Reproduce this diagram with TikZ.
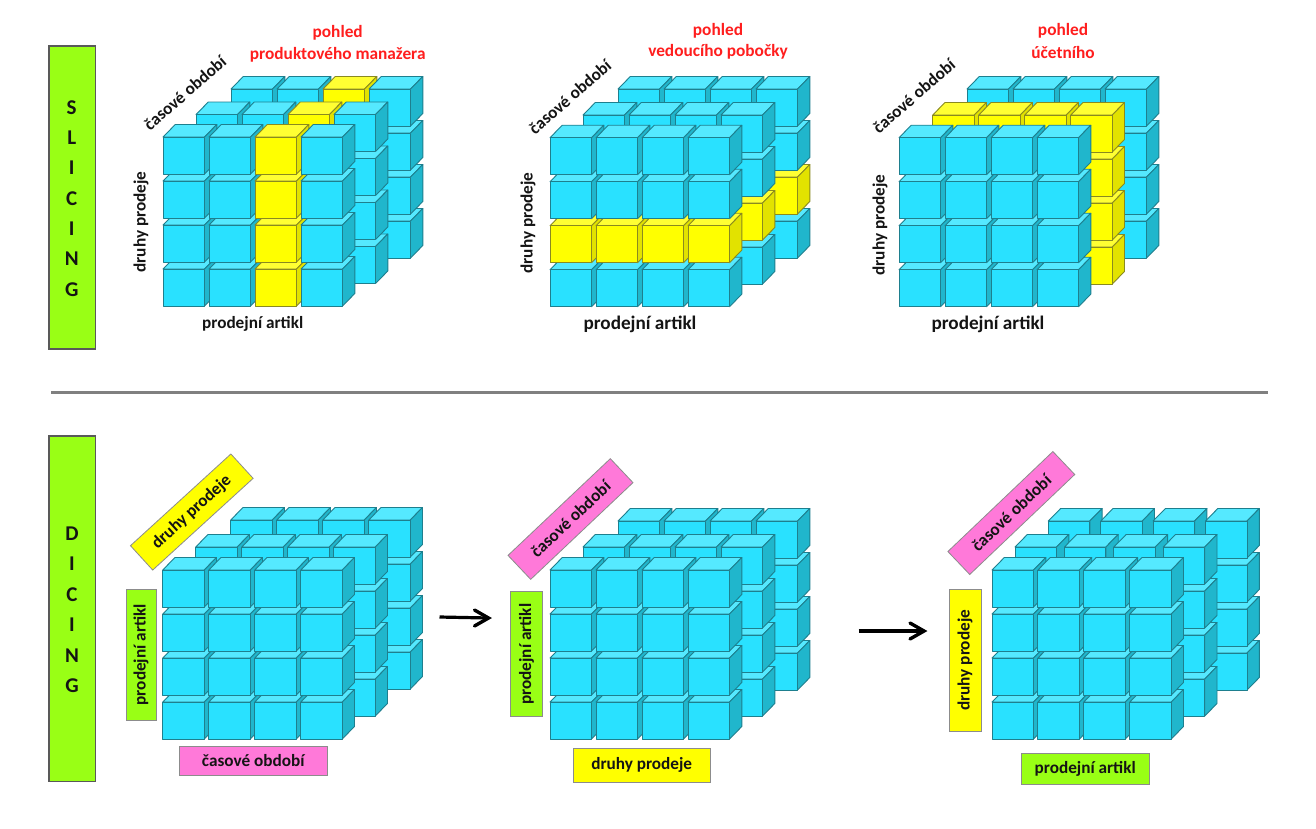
\documentclass[tikz,border=0pt]{standalone}
\usepackage{fontspec}
\setmainfont{Carlito}
\usetikzlibrary{arrows.meta,calc}
\definecolor{cf}{HTML}{29E1FF}
\definecolor{ct}{HTML}{55E9FF}
\definecolor{cs}{HTML}{20B6CC}
\definecolor{cl}{HTML}{1E7F8E}
\definecolor{yf}{HTML}{FFFF00}
\definecolor{yt}{HTML}{FFFF33}
\definecolor{ys}{HTML}{E2E200}
\definecolor{yl}{HTML}{8A8A20}
\definecolor{lime}{HTML}{99FF15}
\definecolor{pinkb}{HTML}{FF79D9}
\definecolor{ink}{HTML}{141414}
\definecolor{redt}{HTML}{FF1E1E}
\tikzset{
  cubeface/.style={line width=0.9pt,line join=round},
  lab/.style={font=\bfseries\fontsize{#1}{#1}\selectfont,text=ink,inner sep=0pt},
  lab/.default=17.2,
  redlab/.style={font=\bfseries\fontsize{17.3}{17.3}\selectfont,text=redt,inner sep=0pt},
  letter/.style={font=\bfseries\fontsize{21}{21}\selectfont,text=ink,inner sep=0pt},
  bar/.style={draw=black!65,line width=1.3pt,fill=lime},
  tag/.style={draw=black!45,line width=0.8pt,fill=#1,inner sep=0pt,font=\bfseries\fontsize{17.2}{17.2}\selectfont,text=ink},
  flow/.style={line width=3.2pt,black},
  flowhead/.style={line width=3.4pt,black,line cap=round,line join=miter},
}
% one cube: x, y, front, top, side, line
\newcommand{\onecube}[6]{%
  \fill[#4,draw=#6,cubeface] (#1,#2) -- ++(12.3,-12.5) -- ++(41.5,0) -- ++(-12.3,12.5) -- cycle;
  \fill[#5,draw=#6,cubeface] (#1+41.5,#2) -- ++(12.3,-12.5) -- ++(0,37) -- ++(-12.3,12.5) -- cycle;
  \fill[#3,draw=#6,cubeface] (#1,#2) rectangle ++(41.5,37);
}
% layer: x, y, column step, yellow column (-1 none), yellow row (-1 none), all yellow (0/1)
\newcommand{\cubelayer}[6]{%
  \foreach \r in {3,2,1,0}{%
    \foreach \c in {0,1,2,3}{%
      \pgfmathtruncatemacro{\isy}{(\c==#4)||(\r==#5)||(#6==1)}%
      \pgfmathsetmacro{\cx}{#1+\c*#3}%
      \pgfmathsetmacro{\cy}{#2+\r*44}%
      \ifnum\isy=1
        \onecube{\cx}{\cy}{yf}{yt}{ys}{yl}
      \else
        \onecube{\cx}{\cy}{cf}{ct}{cs}{cl}
      \fi
    }%
  }%
}
\begin{document}
\begin{tikzpicture}[x=1pt,y=-1pt]
\useasboundingbox (0,0) rectangle (1316,828);
\fill[white] (0,0) rectangle (1316,828);

% side bars
\node[bar,minimum width=46.5pt,minimum height=303pt,inner sep=0pt] (barS) at (72.3,197.5) {};
\node[bar,minimum width=46.5pt,minimum height=345.5pt,inner sep=0pt] (barD) at (72.3,608.7) {};
\foreach \t/\y [count=\i] in {S/107.7,L/138,I/168,C/199,I/229,N/259,G/290}
  \node[letter] (s\i) at (71.7,\y) {\t};
\foreach \t/\y [count=\i] in {D/534,I/564,C/595,I/625,N/656,G/686}
  \node[letter] (d\i) at (72,\y) {\t};

% divider
\coordinate (divL) at (51,392.5);
\coordinate (divR) at (1268,392.5);
\draw[line width=3pt,black!50] (divL) -- (divR);

% slicing 1
\cubelayer{231}{89}{46}{2}{-1}{0}
\cubelayer{196}{114.5}{46}{2}{-1}{0}
\cubelayer{163}{137}{46}{2}{-1}{0}
\node[redlab] (r1a) at (337.7,33) {pohled};
\node[redlab] (r1b) at (337.7,54.5) {produktového manažera};
\node[lab,rotate=41] (t1) at (185,93) {časové období};
\node[lab,rotate=90] (v1) at (141,222) {druhy prodeje};
\node[lab] (h1) at (252.7,324) {prodejní artikl};

% slicing 2
\cubelayer{618}{89}{46}{-1}{2}{0}
\cubelayer{583}{115}{46}{-1}{2}{0}
\cubelayer{550}{137.7}{46}{-1}{2}{0}
\node[redlab] (r2a) at (718,31) {pohled};
\node[redlab] (r2b) at (718,52) {vedoucího pobočky};
\node[lab,rotate=41] (t2) at (570,97) {časové období};
\node[lab,rotate=90] (v2) at (528,223) {druhy prodeje};
\node[lab=19.2] (h2) at (640,324) {prodejní artikl};

% slicing 3
\cubelayer{967}{89}{46}{-1}{-1}{0}
\cubelayer{932.7}{115}{46}{-1}{-1}{1}
\cubelayer{899}{137.7}{46}{-1}{-1}{0}
\node[redlab] (r3a) at (1063,31) {pohled};
\node[redlab] (r3b) at (1063,52) {účetního};
\node[lab,rotate=41] (t3) at (914,96) {časové období};
\node[lab,rotate=90] (v3) at (880,225) {druhy prodeje};
\node[lab=19.2] (h3) at (988,324) {prodejní artikl};

% dicing 1
\cubelayer{230.7}{520}{46}{-1}{-1}{0}
\cubelayer{195.7}{547}{46}{-1}{-1}{0}
\cubelayer{162.7}{570}{46}{-1}{-1}{0}
\node[tag=yf,rotate=42.4,minimum width=136pt,minimum height=33pt] (a1) at (191.8,512) {druhy prodeje};
\node[tag=lime,rotate=90,minimum width=131pt,minimum height=30pt] (b1) at (141,654.7) {prodejní artikl};
\node[tag=pinkb,minimum width=148.3pt,minimum height=28.3pt] (c1) at (253.2,760.8) {časové období};

% dicing 2
\cubelayer{618}{521}{46}{-1}{-1}{0}
\cubelayer{583}{547}{46}{-1}{-1}{0}
\cubelayer{550}{570}{46}{-1}{-1}{0}
\node[tag=pinkb,rotate=43.4,minimum width=140.8pt,minimum height=33pt] (a2) at (570.5,519) {časové období};
\node[tag=lime,rotate=90,minimum width=125pt,minimum height=31.6pt] (b2) at (526.5,654.2) {prodejní artikl};
\node[tag=yf,minimum width=136.7pt,minimum height=34pt] (c2) at (641.7,765.3) {druhy prodeje};

% dicing 3
\cubelayer{1048.3}{521}{52.4}{-1}{-1}{0}
\cubelayer{1015}{547}{49.4}{-1}{-1}{0}
\cubelayer{992}{570}{45.9}{-1}{-1}{0}
\node[tag=pinkb,rotate=43.6,minimum width=145pt,minimum height=31.7pt] (a3) at (1011.3,513) {časové období};
\node[tag=yf,rotate=90,minimum width=142.7pt,minimum height=32pt] (b3) at (965,660.3) {druhy prodeje};
\node[tag=lime,minimum width=128.3pt,minimum height=31pt] (c3) at (1085.2,768.8) {prodejní artikl};

% arrows
\coordinate (f1a) at (439.5,617);
\coordinate (f1b) at (488.5,618);
\coordinate (f2a) at (858.5,631);
\coordinate (f2b) at (924,631);
\draw[flow] (f1a) -- (f1b);
\draw[flow] (f2a) -- (f2b);
\draw[flowhead] ($(f1b)+(-14,-8)$) -- (f1b) -- ($(f1b)+(-14,8)$);
\draw[flowhead] ($(f2b)+(-14,-8)$) -- (f2b) -- ($(f2b)+(-14,8)$);
\end{tikzpicture}
\end{document}
